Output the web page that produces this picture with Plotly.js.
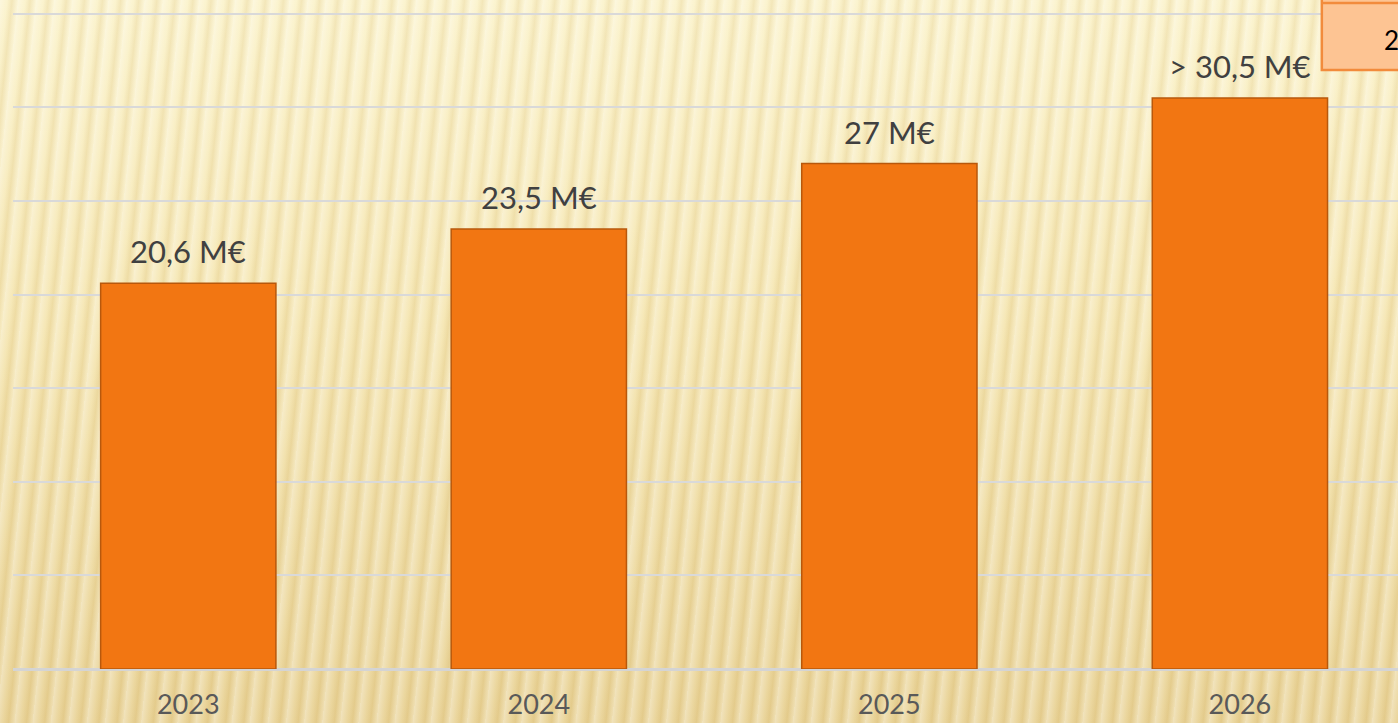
<!DOCTYPE html>
<html>
<head>
<meta charset="utf-8">
<script src="https://cdn.plot.ly/plotly-3.0.1.min.js"></script>
<style>
html,body{margin:0;padding:0;width:1398px;height:723px;overflow:hidden;}
body{
  background:
    repeating-linear-gradient(96deg, rgba(255,255,255,0.35) 0px, rgba(255,255,255,0.05) 7px, rgba(185,140,50,0.12) 12px, rgba(255,255,255,0.25) 18px),
    linear-gradient(180deg, #fbf3cc 0%, #f5e6b2 45%, #e9d397 100%);
}
#chart{width:1398px;height:723px;}
</style>
</head>
<body>
<div id="chart"></div>
<script>
const years = ["2023", "2024", "2025", "2026"];
const values = [20.6, 23.5, 27, 30.5];
const labels = ["20,6 M€", "23,5 M€", "27 M€", "> 30,5 M€"];

const trace = {
  type: "bar",
  x: years,
  y: values,
  marker: {color: "#f27612", line: {color: "#b8580c", width: 1.5}},
  width: 0.5,
  hoverinfo: "skip"
};

const labelFont = {family: "Lato, 'Open Sans', sans-serif", size: 31, color: "#404040"};
const valueAnnotations = years.map((yr, i) => ({
  x: i, y: values[i], xref: "x", yref: "y",
  text: labels[i], showarrow: false,
  xanchor: "center", yanchor: "bottom", yshift: 11,
  font: labelFont
}));

const layout = {
  width: 1398,
  height: 723,
  margin: {l: 13, r: 0, t: 10, b: 54},
  paper_bgcolor: "rgba(0,0,0,0)",
  plot_bgcolor: "rgba(0,0,0,0)",
  showlegend: false,
  xaxis: {
    type: "category",
    range: [-0.5, 3.451],
    showgrid: false,
    zeroline: false,
    showline: false,
    ticks: "",
    tickfont: {family: "Lato, 'Open Sans', sans-serif", size: 27, color: "#595959"},
    ticklabelstandoff: 17
  },
  yaxis: {
    range: [0, 35.2],
    dtick: 5,
    showticklabels: false,
    showgrid: true,
    gridcolor: "#d9d9d9",
    gridwidth: 2,
    zeroline: true,
    zerolinecolor: "#d4d4d4",
    zerolinewidth: 3,
    fixedrange: true
  },
  shapes: [
    {type: "rect", xref: "paper", yref: "paper", x0: 0.945, x1: 1.02, y0: 0.909, y1: 1.03,
     fillcolor: "#fdc493", line: {color: "#f28b3c", width: 2.5}, layer: "above"},
    {type: "line", xref: "paper", yref: "paper", x0: 0.945, x1: 1.02, y0: 1.0107, y1: 1.0107,
     line: {color: "#f28b3c", width: 2.5}, layer: "above"}
  ],
  annotations: valueAnnotations.concat([
    {xref: "paper", yref: "paper", x: 0.9885, y: 0.955, text: "2", showarrow: false,
     xanchor: "left", yanchor: "middle",
     font: {family: "Lato, 'Open Sans', sans-serif", size: 26, color: "#000000"}}
  ])
};

Plotly.newPlot("chart", [trace], layout, {displayModeBar: false, staticPlot: true});
</script>
</body>
</html>
